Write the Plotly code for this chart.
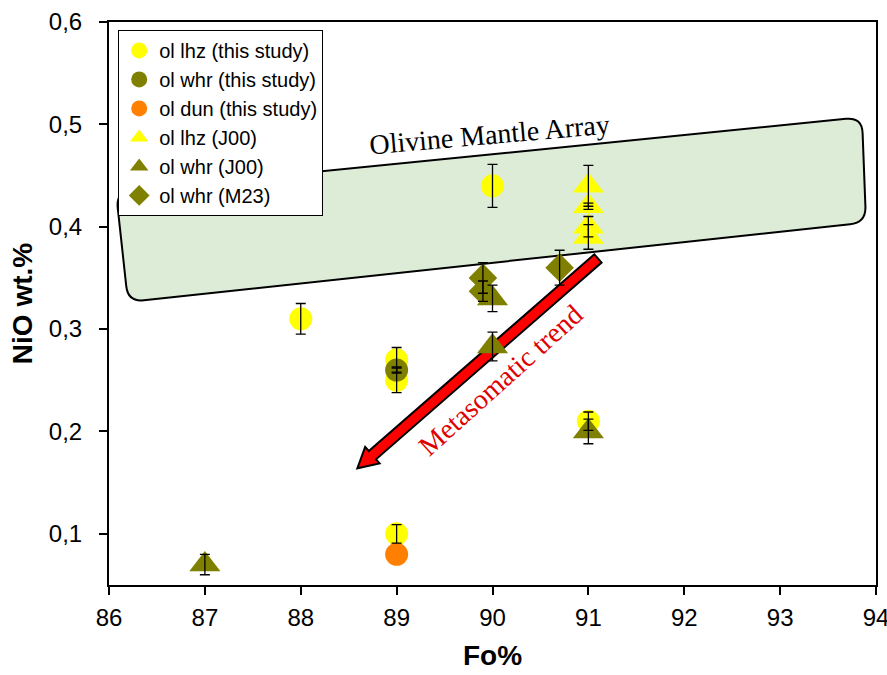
import math
import plotly.graph_objects as go

# ---------------- data ----------------
lhz_x = [88, 89, 89, 89, 90, 91]
lhz_y = [0.31, 0.27, 0.25, 0.10, 0.44, 0.21]
lhz_e = [0.015, 0.012, 0.012, 0.009, 0.021, 0.009]

whr_x = [89]
whr_y = [0.26]
whr_e = [0.003]

dun_x = [89]
dun_y = [0.08]

lhzJ_x = [91, 91, 91, 91]
lhzJ_y = [0.44, 0.42, 0.40, 0.39]
lhzJ_e = [0.02, 0.003, 0.01, 0.012]

whrJ_x = [87, 90, 90, 91]
whrJ_y = [0.07, 0.33, 0.283, 0.20]
whrJ_e = [0.01, 0.013, 0.014, 0.012]

whrM_x = [89.9, 89.9, 90.7]
whrM_y = [0.35, 0.337, 0.36]
whrM_e = [0.015, 0.01, 0.017]

x_ticks = [86, 87, 88, 89, 90, 91, 92, 93, 94]
y_ticks = [0.1, 0.2, 0.3, 0.4, 0.5, 0.6]
y_ticktext = ["0,1", "0,2", "0,3", "0,4", "0,5", "0,6"]

# ---------------- geometry helpers ----------------
W, H = 887, 675
ML, MR, MT, MB = 109, 11, 22, 90
XR = [86, 94]
YR = [0.05, 0.6]
PW = W - ML - MR
PH = H - MT - MB


def to_px(x, y):
    return (ML + (x - XR[0]) / (XR[1] - XR[0]) * PW,
            MT + (YR[1] - y) / (YR[1] - YR[0]) * PH)


def to_data(px, py):
    return (XR[0] + (px - ML) / PW * (XR[1] - XR[0]),
            YR[1] - (py - MT) / PH * (YR[1] - YR[0]))


def path_from_px(pts, close=True):
    s = ""
    for cmd, p in pts:
        if cmd == "Q":
            c, e = p
            cx, cy = to_data(*c)
            ex, ey = to_data(*e)
            s += f"Q{cx},{cy} {ex},{ey} "
        else:
            x, y = to_data(*p)
            s += f"{cmd}{x},{y} "
    if close:
        s += "Z"
    return s


# Olivine mantle array: rounded quadrilateral (corner positions in data units)
array_corners = [(86.073, 0.434), (93.854, 0.507), (93.896, 0.404), (86.198, 0.3265)]
corner_px = [to_px(*c) for c in array_corners]
rad = 16
segs = []
n = len(corner_px)
for i in range(n):
    p = corner_px[i]
    prv = corner_px[i - 1]
    nxt = corner_px[(i + 1) % n]
    d1 = math.hypot(prv[0] - p[0], prv[1] - p[1])
    d2 = math.hypot(nxt[0] - p[0], nxt[1] - p[1])
    a = (p[0] + (prv[0] - p[0]) / d1 * rad, p[1] + (prv[1] - p[1]) / d1 * rad)
    b = (p[0] + (nxt[0] - p[0]) / d2 * rad, p[1] + (nxt[1] - p[1]) / d2 * rad)
    segs.append(("M" if i == 0 else "L", a))
    segs.append(("Q", (p, b)))
array_path = path_from_px(segs)

# Metasomatic trend arrow (tail -> tip in data units)
arrow_tail = (91.1, 0.369)
arrow_tip = (88.59, 0.164)
tx, ty = to_px(*arrow_tail)
hx, hy = to_px(*arrow_tip)
L = math.hypot(hx - tx, hy - ty)
ux, uy = (hx - tx) / L, (hy - ty) / L
nx, ny = -uy, ux
sw, hl, hw = 5.5, 20, 11
bx, by = hx - ux * hl, hy - uy * hl
arrow_pts = [
    ("M", (tx + nx * sw, ty + ny * sw)),
    ("L", (bx + nx * sw, by + ny * sw)),
    ("L", (bx + nx * hw, by + ny * hw)),
    ("L", (hx, hy)),
    ("L", (bx - nx * hw, by - ny * hw)),
    ("L", (bx - nx * sw, by - ny * sw)),
    ("L", (tx - nx * sw, ty - ny * sw)),
]
arrow_path = path_from_px(arrow_pts)

# ---------------- figure ----------------
YEL = "#ffff00"
OLV = "#808000"
ORG = "#ff8000"


def err(vals):
    return dict(type="data", array=vals, visible=True, color="black",
                thickness=1.3, width=5)


fig = go.Figure()
series = [
    ("ol lhz (this study)", lhz_x, lhz_y, lhz_e, "circle", 23, YEL),
    ("ol whr (this study)", whr_x, whr_y, whr_e, "circle", 23, OLV),
    ("ol dun (this study)", dun_x, dun_y, None, "circle", 23, ORG),
    ("ol lhz (J00)", lhzJ_x, lhzJ_y, lhzJ_e, "triangle-up", 27, YEL),
    ("ol whr (J00)", whrJ_x, whrJ_y, whrJ_e, "triangle-up", 27, OLV),
    ("ol whr (M23)", whrM_x, whrM_y, whrM_e, "diamond", 22, OLV),
]
for name, xs, ys, es, sym, sz, col in series:
    fig.add_trace(go.Scatter(x=xs, y=ys, mode="markers", name=name,
                             marker=dict(symbol=sym, size=sz, color=col)))
# error bars drawn on top of the symbols, as in the original
for name, xs, ys, es, sym, sz, col in series:
    if es is None:
        continue
    fig.add_trace(go.Scatter(x=xs, y=ys, mode="markers", showlegend=False,
                             hoverinfo="skip",
                             marker=dict(size=1, color="rgba(0,0,0,0)"),
                             error_y=err(es)))

fig.add_shape(type="path", path=array_path, xref="x", yref="y", layer="below",
              fillcolor="#dcecd6", line=dict(color="black", width=2))
fig.add_shape(type="path", path=arrow_path, xref="x", yref="y", layer="below",
              fillcolor="#ff0000", line=dict(color="black", width=2))

fig.add_annotation(x=89.97, y=0.49, xref="x", yref="y", text="Olivine Mantle Array",
                   showarrow=False, textangle=-5,
                   font=dict(family="Liberation Serif, Times New Roman, serif", size=28, color="black"))
fig.add_annotation(x=90.08, y=0.25, xref="x", yref="y", text="Metasomatic trend",
                   showarrow=False, textangle=-42,
                   font=dict(family="Liberation Serif, Times New Roman, serif", size=28, color="#e00000"))

axis_common = dict(showline=True, linecolor="black", linewidth=2, mirror=True,
                   ticks="outside", ticklen=8, tickwidth=2, tickcolor="black",
                   showgrid=False, zeroline=False, automargin=False,
                   ticklabeloverflow="allow",
                   tickfont=dict(family="Arial, Liberation Sans, sans-serif", size=24, color="black"))

fig.update_layout(
    width=W, height=H,
    margin=dict(l=ML, r=MR, t=MT, b=MB, autoexpand=False),
    paper_bgcolor="white", plot_bgcolor="white",
    font=dict(family="Arial, Liberation Sans, sans-serif", color="black"),
    xaxis=dict(range=XR, tickvals=x_ticks, ticklabelstandoff=2,
               title=dict(text="<b>Fo%</b>", font=dict(size=28), standoff=16),
               **axis_common),
    yaxis=dict(range=YR, tickvals=y_ticks, ticktext=y_ticktext, ticklabelstandoff=12,
               title=dict(text="<b>NiO wt.%</b>", font=dict(size=28), standoff=8),
               **axis_common),
    legend=dict(x=0.012, y=0.986, xanchor="left", yanchor="top",
                bgcolor="white", bordercolor="black", borderwidth=1,
                font=dict(size=20, color="black"), itemsizing="trace"),
    showlegend=True,
)

fig.write_html("out.html", config={"displayModeBar": False},
               post_script="document.body.style.margin='0px';document.body.style.overflow='hidden';")
